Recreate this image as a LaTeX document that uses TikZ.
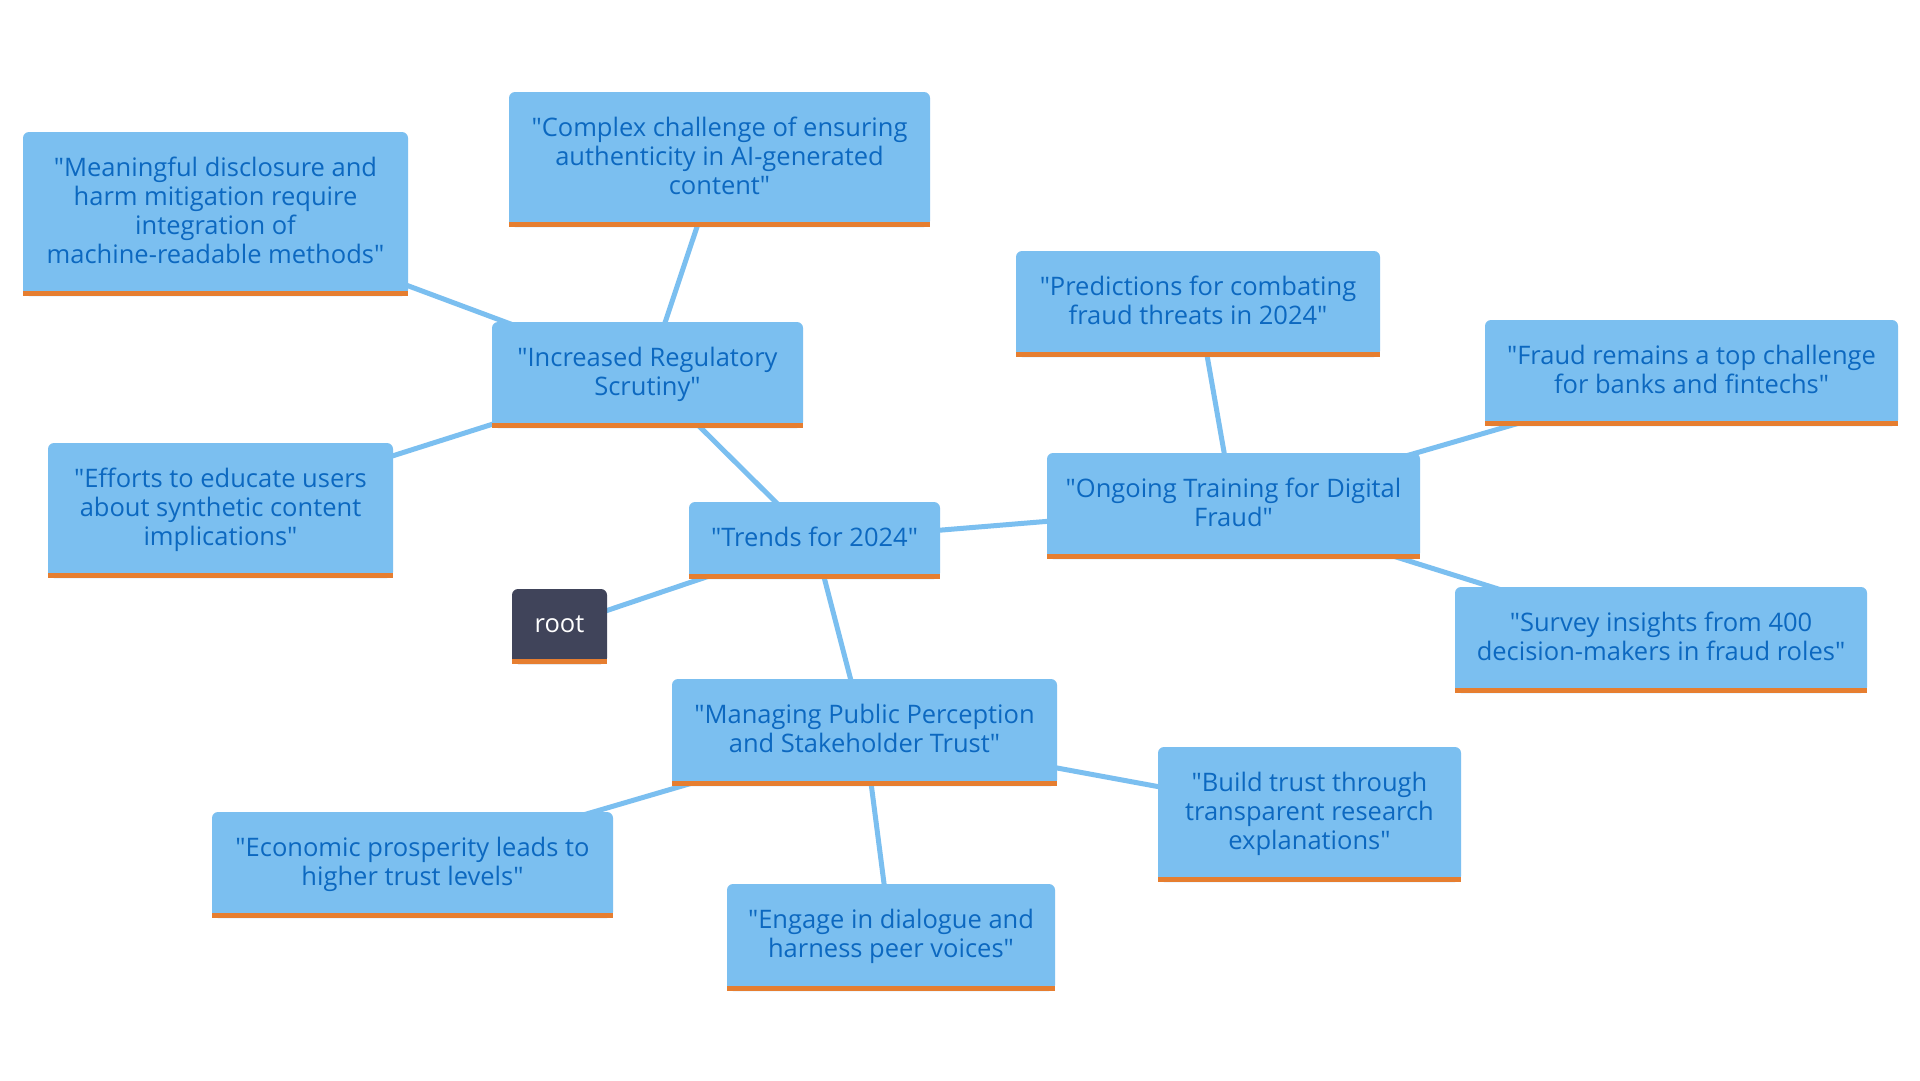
\documentclass[tikz,border=0pt]{standalone}
\usepackage{fontspec}
\setmainfont{Open Sans}
\usetikzlibrary{backgrounds}
\definecolor{boxblue}{RGB}{123,191,240}
\definecolor{edgeblue}{RGB}{123,191,240}
\definecolor{txtblue}{RGB}{12,104,192}
\definecolor{barorange}{RGB}{230,126,48}
\definecolor{rootgray}{RGB}{64,68,90}
\newcommand\dq{\textquotedbl}
\begin{document}
\begin{tikzpicture}[x=1pt,y=-1pt,
  mbox/.style={fill=boxblue, rounded corners=6pt, text=txtblue, align=center,
    inner sep=0pt, font=\fontsize{25.5}{29}\selectfont,
    execute at begin node={\rule{0pt}{20pt}},
    execute at end node={\rule[-8pt]{0pt}{0pt}}},
  rootbox/.style={mbox, fill=rootgray, text=white},
  conn/.style={draw=edgeblue, line width=5pt}]
\useasboundingbox (0,0) rectangle (1920,1080);

\node[rootbox, minimum width=95pt, minimum height=75pt] (root) at (559.5,626.5) {root};
\node[mbox, minimum width=251pt, minimum height=77pt] (trends) at (814.5,540.5) {\dq Trends for 2024\dq};
\node[mbox, minimum width=311pt, minimum height=106pt] (incr) at (647.5,375) {\dq Increased Regulatory\\Scrutiny\dq};
\node[mbox, minimum width=385pt, minimum height=164pt] (mean) at (215.5,214) {\dq Meaningful disclosure and\\harm mitigation require\\integration of\\machine-readable methods\dq};
\node[mbox, minimum width=421pt, minimum height=135pt] (compl) at (719.5,159.5) {\dq Complex challenge of ensuring\\authenticity in AI-generated\\content\dq};
\node[mbox, minimum width=345pt, minimum height=135pt] (effo) at (220.5,510.5) {\dq Efforts to educate users\\about synthetic content\\implications\dq};
\node[mbox, minimum width=364pt, minimum height=106pt] (pred) at (1198,304) {\dq Predictions for combating\\fraud threats in 2024\dq};
\node[mbox, minimum width=413pt, minimum height=106pt] (fraud) at (1691.5,373) {\dq Fraud remains a top challenge\\for banks and fintechs\dq};
\node[mbox, minimum width=373pt, minimum height=106pt] (ongo) at (1233.5,506) {\dq Ongoing Training for Digital\\Fraud\dq};
\node[mbox, minimum width=412pt, minimum height=106pt] (surv) at (1661,640) {\dq Survey insights from 400\\decision-makers in fraud roles\dq};
\node[mbox, minimum width=385pt, minimum height=107pt] (mana) at (864.5,732.5) {\dq Managing Public Perception\\and Stakeholder Trust\dq};
\node[mbox, minimum width=401pt, minimum height=106pt] (econ) at (412.5,865) {\dq Economic prosperity leads to\\higher trust levels\dq};
\node[mbox, minimum width=328pt, minimum height=107pt] (enga) at (891,937.5) {\dq Engage in dialogue and\\harness peer voices\dq};
\node[mbox, minimum width=303pt, minimum height=135pt] (build) at (1309.5,814.5) {\dq Build trust through\\transparent research\\explanations\dq};

\foreach \n in {root,trends,incr,mean,compl,effo,pred,fraud,ongo,surv,mana,econ,enga,build}
  \fill[barorange] (\n.south west) rectangle ([yshift=5pt]\n.south east);

\begin{scope}[on background layer]
\fill[white] (0,0) rectangle (1920,1080);
\draw[conn] (root.center) -- (trends.center);
\draw[conn] (trends.center) -- (incr.center);
\draw[conn] (trends.center) -- (ongo.center);
\draw[conn] (trends.center) -- (mana.center);
\draw[conn] (incr.center) -- (mean.center);
\draw[conn] (incr.center) -- (compl.center);
\draw[conn] (incr.center) -- (effo.center);
\draw[conn] (ongo.center) -- (pred.center);
\draw[conn] (ongo.center) -- (fraud.center);
\draw[conn] (ongo.center) -- (surv.center);
\draw[conn] (mana.center) -- (econ.center);
\draw[conn] (mana.center) -- (enga.center);
\draw[conn] (mana.center) -- (build.center);
\end{scope}
\end{tikzpicture}
\end{document}
